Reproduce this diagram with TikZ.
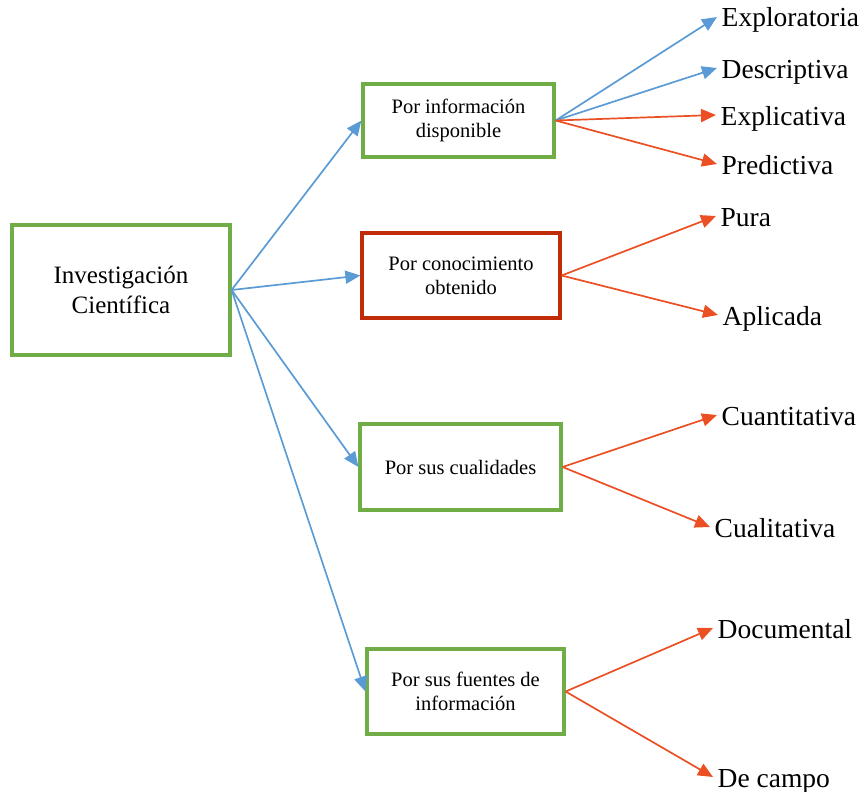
\documentclass[tikz,border=0pt]{standalone}
\usepackage{fontspec}
\setmainfont{Liberation Serif}
\usetikzlibrary{arrows.meta}
\definecolor{boxgreen}{RGB}{112,173,71}
\definecolor{boxred}{RGB}{192,44,8}
\definecolor{linkblue}{RGB}{91,155,213}
\definecolor{linkred}{RGB}{234,80,36}
\tikzset{
  catbox/.style={draw=boxgreen, line width=3.2pt, align=center, inner sep=0pt,
    font=\fontsize{20.5}{24}\selectfont},
  leaf/.style={anchor=west, inner xsep=4.5pt, inner ysep=0pt,
    text height=22pt, text depth=2pt, font=\fontsize{27.5}{30}\selectfont},
  bluelink/.style={draw=linkblue, line width=1.7pt, -{Triangle[length=15pt,width=13pt]}},
  redlink/.style={draw=linkred, line width=1.7pt, -{Triangle[length=15pt,width=13pt]}},
}
\begin{document}
\begin{tikzpicture}[x=1pt,y=-1pt]
\useasboundingbox (0,0) rectangle (865,792);

% main node
\node[catbox, minimum width=218pt, minimum height=130pt,
      font=\fontsize{25}{30}\selectfont] (main) at (121,290)
  {Investigación\\Científica};

% categories
\node[catbox, minimum width=191pt, minimum height=73pt] (info) at (458.5,120.5)
  {Por información\\disponible};
\node[catbox, draw=boxred, minimum width=198pt, minimum height=85pt] (cono) at (461,275.5)
  {Por conocimiento\\obtenido};
\node[catbox, minimum width=201pt, minimum height=86pt] (cual) at (460.5,467)
  {Por sus cualidades};
\node[catbox, minimum width=197pt, minimum height=85pt] (fuen) at (465.5,691.5)
  {Por sus fuentes de\\información};

% leaves
\node[leaf] (explo) at (717,17)  {Exploratoria};
\node[leaf] (desc)  at (717,68)  {Descriptiva};
\node[leaf] (expli) at (716,115) {Explicativa};
\node[leaf] (pred)  at (717,164) {Predictiva};
\node[leaf] (pura)  at (716,216) {Pura};
\node[leaf] (apli)  at (718,315) {Aplicada};
\node[leaf] (cuant) at (717,415) {Cuantitativa};
\node[leaf] (cuali) at (710,527) {Cualitativa};
\node[leaf] (docu)  at (713,628) {Documental};
\node[leaf] (camp)  at (713,777) {De campo};

% connectors from the main node
\draw[bluelink] (main.east) -- (info.west);
\draw[bluelink] (main.east) -- (cono.west);
\draw[bluelink] (main.east) -- (cual.west);
\draw[bluelink] (main.east) -- (fuen.west);

% connectors to the leaves
\draw[bluelink] (info.east) -- (explo.west);
\draw[bluelink] (info.east) -- (desc.west);
\draw[redlink]  (info.east) -- (expli.west);
\draw[redlink]  (info.east) -- (pred.west);
\draw[redlink]  (cono.east) -- (pura.west);
\draw[redlink]  (cono.east) -- (apli.west);
\draw[redlink]  (cual.east) -- (cuant.west);
\draw[redlink]  (cual.east) -- (cuali.west);
\draw[redlink]  (fuen.east) -- (docu.west);
\draw[redlink]  (fuen.east) -- (camp.west);
\end{tikzpicture}
\end{document}
